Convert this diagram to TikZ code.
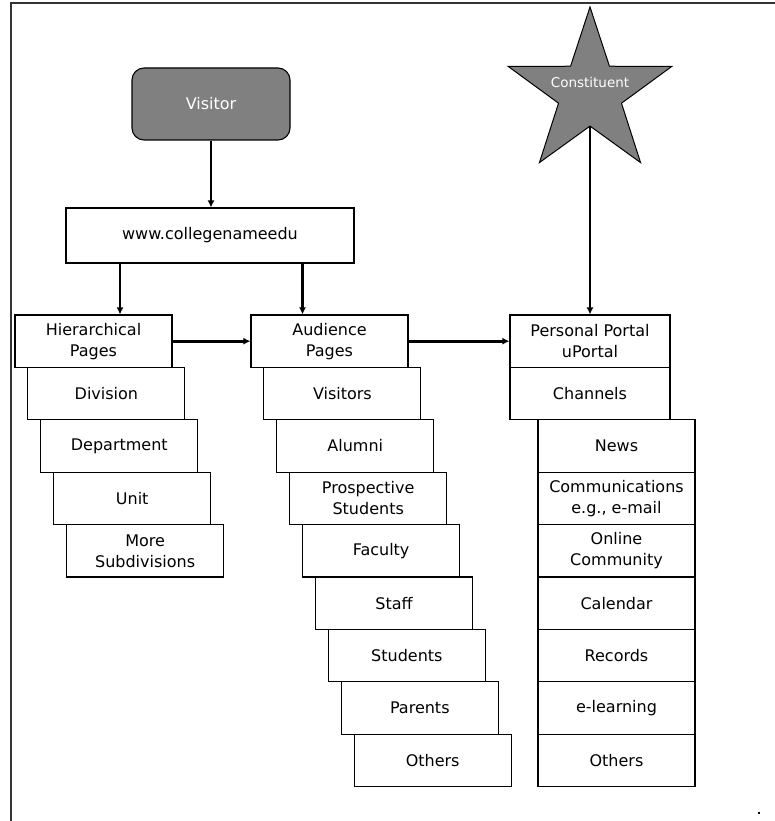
\documentclass[tikz,border=0pt]{standalone}
\usepackage{fontspec}
\setmainfont{DejaVu Sans}
\usetikzlibrary{arrows.meta,shapes.geometric}
\begin{document}
\begin{tikzpicture}[x=1pt,y=-1pt,
    box/.style={draw,line width=1.1pt,fill=white,align=center,inner sep=0pt,
        minimum width=157pt,minimum height=52.4pt,font=\fontsize{16}{21}\selectfont},
    arr/.style={line width=2.7pt,-{Latex[length=7pt,width=7pt]}}]
            \useasboundingbox (0,0) rectangle (775,821);
            \draw[line width=1.6pt,black!80] (11,821) -- (11,3) -- (775,3);
            \fill (758,812) rectangle (760,814);
            \node[box,fill=black!50,text=white,rounded corners=12pt,minimum width=158pt,minimum height=72pt] (visitor) at (211,104) {Visitor};
            \node[box,minimum width=288pt,minimum height=55pt] (www) at (210,235.5) {www.collegenameedu};
            \node[star,star points=5,star point ratio=2.6,draw,line width=1pt,fill=black!50,minimum size=172pt,inner sep=0pt] (star) at (590,93) {};
            \node[text=white,font=\fontsize{13.5}{16}\selectfont] (constit) at (590,82) {Constituent};
            \node[box] (hier) at (93.5,341.2) {Hierarchical\\Pages};
            \node[box] (division) at (106.4,393.6) {Division};
            \node[box] (dept) at (119.3,446) {Department};
            \node[box] (unit) at (132.2,498.4) {Unit};
            \node[box] (subdiv) at (145.1,550.8) {More\\Subdivisions};
            \node[box] (aud) at (329.5,341.2) {Audience\\Pages};
            \node[box] (visitors) at (342.4,393.6) {Visitors};
            \node[box] (alumni) at (355.3,446) {Alumni};
            \node[box] (prosp) at (368.2,498.4) {Prospective\\Students};
            \node[box] (faculty) at (381.1,550.8) {Faculty};
            \node[box] (staff) at (394,603.2) {Staff};
            \node[box] (students) at (406.9,655.6) {Students};
            \node[box] (parents) at (419.8,708) {Parents};
            \node[box] (others) at (432.7,760.4) {Others};
            \node[box,minimum width=160pt] (portal) at (590,341.2) {Personal Portal\\uPortal};
            \node[box,minimum width=160pt] (channels) at (590,393.6) {Channels};
            \node[box] (news) at (616.5,446) {News};
            \node[box] (comm) at (616.5,498.4) {Communications\\e.g., e-mail};
            \node[box] (online) at (616.5,550.8) {Online\\Community};
            \node[box] (calendar) at (616.5,603.2) {Calendar};
            \node[box] (records) at (616.5,655.6) {Records};
            \node[box] (elearn) at (616.5,708) {e-learning};
            \node[box] (pothers) at (616.5,760.4) {Others};
            \draw[arr] (visitor.south) -- (visitor.south |- www.north);
            \draw[arr] ([xshift=26.5pt]hier.north |- www.south) -- ([xshift=26.5pt]hier.north);
            \draw[arr] ([xshift=-27pt]aud.north |- www.south) -- ([xshift=-27pt]aud.north);
            \draw[arr] (hier.east) -- (aud.west);
            \draw[arr] (aud.east) -- (portal.west);
            \draw[arr] (star.south) -- (portal.north);
            \end{tikzpicture}
\end{document}
